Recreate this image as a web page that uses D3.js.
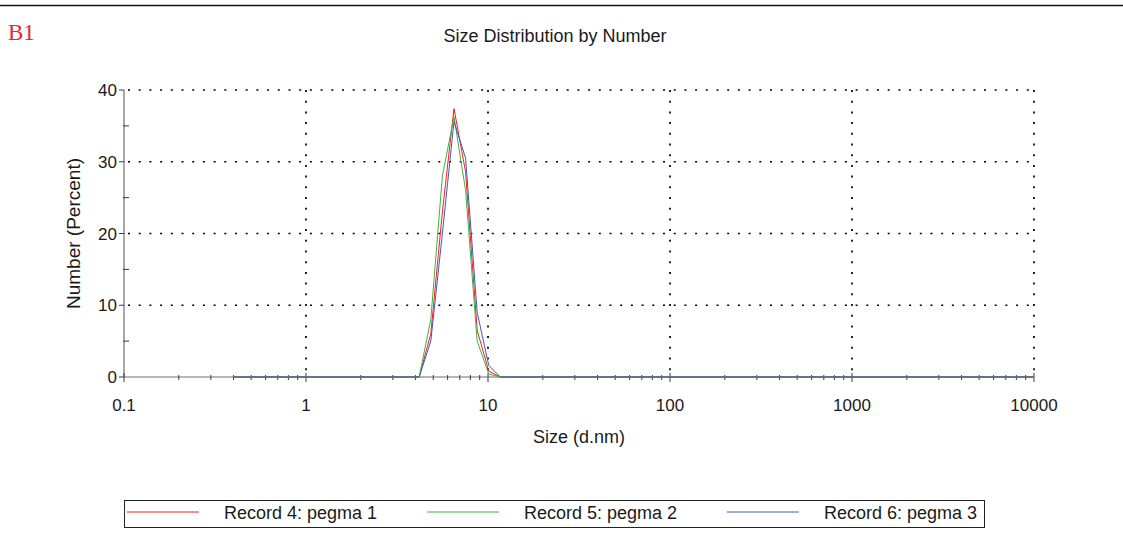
<!DOCTYPE html>
<html>
<head>
<meta charset="utf-8">
<script src="https://cdn.jsdelivr.net/npm/d3@7"></script>
<style>
body{margin:0;background:#fff;}
text{font-family:"Liberation Sans",Arial,sans-serif;fill:#1a1a1a;}
.grid{stroke:#000;stroke-width:1.7;stroke-dasharray:2,8.7;fill:none;}
.axis-line{stroke:#6e6e6e;stroke-width:1.2;}
.tick{stroke:#3a3a3a;stroke-width:1;}
.series{fill:none;stroke-width:1;}
</style>
</head>
<body>
<svg id="chart" width="1123" height="537"></svg>
<script>
// size classes (d.nm), 70 log bins
var sizes = [0.4000,0.4632,0.5365,0.6213,0.7195,0.8332,0.9649,1.117,1.294,1.499,
	1.736,2.010,2.328,2.696,3.122,3.615,4.187,4.849,5.615,6.503,
	7.531,8.721,10.10,11.70,13.54,15.69,18.17,21.04,24.36,28.21,
	32.67,37.84,43.82,50.75,58.77,68.06,78.82,91.28,105.7,122.4,
	141.8,164.2,190.1,220.2,255.0,295.3,342.0,396.1,458.7,531.2,
	615.1,712.4,825.0,955.4,1106,1281,1484,1718,1990,2305,
	2669,3091,3580,4145,4801,5560,6439,7456,8635,10000];

// number % per size class
var pegma1 = [0,0,0,0,0,0,0,0,0,0, 0,0,0,0,0,0,0,6,23,37.4,
	28.6,6.5,0.8,0,0,0,0,0,0,0, 0,0,0,0,0,0,0,0,0,0,
	0,0,0,0,0,0,0,0,0,0, 0,0,0,0,0,0,0,0,0,0, 0,0,0,0,0,0,0,0,0,0];
var pegma2 = [0,0,0,0,0,0,0,0,0,0, 0,0,0,0,0,0,0,8,28,36.3,
	26,5,0.4,0,0,0,0,0,0,0, 0,0,0,0,0,0,0,0,0,0,
	0,0,0,0,0,0,0,0,0,0, 0,0,0,0,0,0,0,0,0,0, 0,0,0,0,0,0,0,0,0,0];
var pegma3 = [0,0,0,0,0,0,0,0,0,0, 0,0,0,0,0,0,0,5,20,35.6,
	30.5,9,1.6,0,0,0,0,0,0,0, 0,0,0,0,0,0,0,0,0,0,
	0,0,0,0,0,0,0,0,0,0, 0,0,0,0,0,0,0,0,0,0, 0,0,0,0,0,0,0,0,0,0];

var seriesNames = ['Record 4: pegma 1','Record 5: pegma 2','Record 6: pegma 3'];
var seriesColors = ['#ff1a1a','#3cb43c','#3c5ac0'];
var xMajor = [0.1,1,10,100,1000,10000];
var yMajor = [0,10,20,30,40];

var svg = d3.select('#chart');

// top rule and panel tag
svg.append('line').attr('x1',0).attr('x2',1123).attr('y1',5.5).attr('y2',5.5)
	.attr('stroke','#111').attr('stroke-width',1.5);
svg.append('text').attr('x',8).attr('y',40).text('B1')
	.style('font-family','"Liberation Serif","Times New Roman",serif')
	.style('font-size','23px').style('fill','#e8262c');

var x = d3.scaleLog().domain([0.1,10000]).range([124,1034]),
	y = d3.scaleLinear().domain([0,40]).range([377,90]);

svg.append('text').attr('x',555).attr('y',42).attr('text-anchor','middle')
	.style('font-size','18px').text('Size Distribution by Number');

// dotted grid
svg.selectAll('.grid-h').data(yMajor.filter(function(d){return d>0}))
	.enter().append('line').attr('class','grid')
	.attr('x1',x(0.1)+4).attr('x2',x(10000))
	.attr('y1',function(d){return y(d)}).attr('y2',function(d){return y(d)});
svg.selectAll('.grid-v').data(xMajor.filter(function(d){return d>0.1}))
	.enter().append('line').attr('class','grid')
	.attr('x1',function(d){return x(d)}).attr('x2',function(d){return x(d)})
	.attr('y1',y(40)).attr('y2',y(0)-3);

// axes lines
svg.append('line').attr('class','axis-line')
	.attr('x1',x(0.1)).attr('x2',x(10000)).attr('y1',y(0)).attr('y2',y(0));
svg.append('line').attr('class','axis-line')
	.attr('x1',x(0.1)).attr('x2',x(0.1)).attr('y1',y(0)).attr('y2',y(40));

// y ticks
var yMinor = d3.range(5,40,10);
svg.selectAll('.ytick').data(yMajor).enter().append('line').attr('class','tick')
	.attr('x1',x(0.1)-5).attr('x2',x(0.1))
	.attr('y1',function(d){return y(d)}).attr('y2',function(d){return y(d)});
svg.selectAll('.ytick-minor').data(yMinor).enter().append('line').attr('class','tick')
	.attr('x1',x(0.1)-1).attr('x2',x(0.1)+5)
	.attr('y1',function(d){return y(d)}).attr('y2',function(d){return y(d)});
svg.selectAll('.ylab').data(yMajor).enter().append('text')
	.attr('x',x(0.1)-7).attr('y',function(d){return y(d)+6})
	.attr('text-anchor','end').style('font-size','17px')
	.text(function(d){return d});

// x ticks (log minor 2..9)
var xMinor = [];
xMajor.slice(0,-1).forEach(function(dec){
	d3.range(2,10).forEach(function(k){xMinor.push(dec*k)});
});
svg.selectAll('.xtick').data(xMajor).enter().append('line').attr('class','tick')
	.attr('x1',function(d){return x(d)}).attr('x2',function(d){return x(d)})
	.attr('y1',y(0)-4).attr('y2',y(0)+5);
svg.selectAll('.xtick-minor').data(xMinor).enter().append('line').attr('class','tick')
	.attr('x1',function(d){return x(d)}).attr('x2',function(d){return x(d)})
	.attr('y1',y(0)-2).attr('y2',y(0)+3);
svg.selectAll('.xlab').data(xMajor).enter().append('text')
	.attr('x',function(d){return x(d)}).attr('y',y(0)+34)
	.attr('text-anchor','middle').style('font-size','17px')
	.text(function(d){return d});

// axis titles
svg.append('text').attr('x',579).attr('y',443).attr('text-anchor','middle')
	.style('font-size','18px').text('Size (d.nm)');
svg.append('text').attr('transform','translate(80,'+y(20)+') rotate(-90)')
	.attr('text-anchor','middle').style('font-size','19px').text('Number (Percent)');

// series
var line = d3.line()
	.x(function(d,i){return x(sizes[i])})
	.y(function(d){return y(d)});
[pegma1,pegma2,pegma3].forEach(function(s,i){
	svg.append('path').attr('class','series').datum(s)
		.attr('stroke',seriesColors[i]).attr('d',line);
});

// legend
svg.append('rect').attr('x',124.5).attr('y',500.5).attr('width',860).attr('height',27)
	.attr('fill','none').attr('stroke','#222').attr('stroke-width',1);
var legX = [127,427,727];
seriesNames.forEach(function(name,i){
	svg.append('line').attr('x1',legX[i]).attr('x2',legX[i]+72)
		.attr('y1',512).attr('y2',512).attr('stroke',seriesColors[i]).attr('stroke-width',1);
	svg.append('text').attr('x',legX[i]+97).attr('y',519)
		.style('font-size','18px').text(name);
});
</script>
</body>
</html>
